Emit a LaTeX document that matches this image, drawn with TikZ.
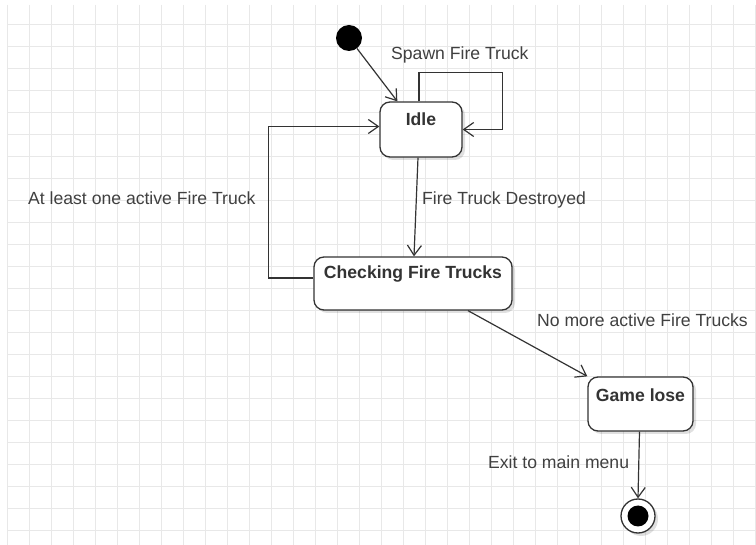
\documentclass[tikz,border=0pt]{standalone}
\usepackage{fontspec}
\setmainfont{Liberation Sans}
\usetikzlibrary{arrows.meta,calc,shadows}
\definecolor{gridc}{RGB}{232,232,232}
\definecolor{linec}{RGB}{51,51,51}
\definecolor{labc}{RGB}{64,64,64}
\tikzset{
  statebox/.style={draw=linec, line width=1.3pt, rounded corners=10pt, fill=white,
    drop shadow={shadow xshift=3pt, shadow yshift=-3pt, opacity=0.12, fill=black}},
  statetxt/.style={anchor=base, font=\fontsize{17.6}{20}\selectfont\bfseries, text=linec, inner sep=0pt},
  lab/.style={anchor=base west, font=\fontsize{17.6}{20}\selectfont, text=labc, inner sep=0pt},
  arr/.style={draw=linec, line width=1.2pt, -{Straight Barb[length=10pt,width=14pt,line width=1.2pt]}},
}
\begin{document}
\begin{tikzpicture}[x=1pt,y=-1pt]
\useasboundingbox (0,0) rectangle (756,545);
\fill[white] (0,0) rectangle (756,545);
% grid
\foreach \gx in {7,29,...,756} \draw[gridc, line width=1pt] (\gx,5) -- (\gx,545);
\foreach \gy in {25,47,...,545} \draw[gridc, line width=1pt] (7,\gy) -- (756,\gy);
% states
\node[statebox, minimum width=82pt, minimum height=55pt, inner sep=0pt] (idle) at (421,129.5) {};
\node[statetxt] (idletxt) at ($(idle.north)+(0,24)$) {Idle};
\node[statebox, minimum width=198pt, minimum height=53pt, inner sep=0pt] (check) at (413,283.5) {};
\node[statetxt] (checktxt) at ($(check.north)+(0,22.5)$) {Checking Fire Trucks};
\node[statebox, minimum width=105pt, minimum height=54pt, inner sep=0pt] (lose) at (640.5,404) {};
\node[statetxt] (losetxt) at ($(lose.north)+(0,25.5)$) {Game lose};
% pseudo states
\node[circle, fill=black, minimum size=26pt, inner sep=0pt] (init) at (349,38) {};
\node[circle, draw=linec, line width=1.3pt, fill=white, minimum size=34pt, inner sep=0pt,
  drop shadow={shadow xshift=3pt, shadow yshift=-3pt, opacity=0.12, fill=black}] (fin) at (638,516) {};
\node[circle, fill=black, minimum size=21pt, inner sep=0pt] (finin) at (fin) {};
% transitions
\draw[arr] (init) -- ($(idle.north west)+(18,0)$);
\draw[arr] ($(idle.north)+(-2,0)$) -- ++(0,-29) -| ($(idle.east)+(40,0)$) -- (idle.east);
\draw[arr] ($(idle.south)+(-3,0)$) -- ($(check.north)+(1,0)$);
\draw[arr] ($(check.west)+(0,-5.5)$) -- ++(-45,0) |- ($(idle.west)+(0,-3)$);
\draw[arr] ($(check.south)+(55,0)$) -- (lose.north west);
\draw[arr] ($(lose.south)+(-1,0)$) -- (fin.north);
% labels
\node[lab] (l1) at (391,59.3) {Spawn Fire Truck};
\node[lab] (l2) at (422,204.6) {Fire Truck Destroyed};
\node[lab] (l3) at (28,204.3) {At least one active Fire Truck};
\node[lab] (l4) at (537,326.3) {No more active Fire Trucks};
\node[lab] (l5) at (488,468.3) {Exit to main menu};
\end{tikzpicture}
\end{document}
